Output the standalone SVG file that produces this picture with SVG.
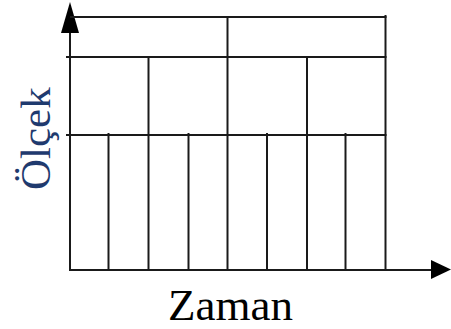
<svg xmlns="http://www.w3.org/2000/svg" width="451" height="329" viewBox="0 0 451 329">
<rect width="451" height="329" fill="#fff"/>
<g id="connectors" stroke="#1a1a1a" stroke-width="2" fill="none">
<line x1="70" y1="30" x2="70" y2="271"/>
<line x1="69" y1="270" x2="432" y2="270"/>
<polygon points="70,2 61,33 79,33" fill="#000" stroke="none"/>
<polygon points="451,269.5 431,260 431,279" fill="#000" stroke="none"/>
</g>
<g id="grid" stroke="#1a1a1a" stroke-width="2" fill="none">
<line x1="70" y1="17" x2="386.5" y2="17"/>
<line x1="66" y1="57" x2="386.5" y2="57"/>
<line x1="66" y1="135" x2="386.5" y2="135"/>
<line x1="385.5" y1="15" x2="385.5" y2="271"/>
<line x1="227.5" y1="17" x2="227.5" y2="271"/>
<line x1="148.5" y1="57" x2="148.5" y2="271"/>
<line x1="307" y1="56" x2="307" y2="271"/>
<line x1="108.5" y1="133" x2="108.5" y2="271"/>
<line x1="188.5" y1="133" x2="188.5" y2="271"/>
<line x1="267" y1="133" x2="267" y2="271"/>
<line x1="345.5" y1="133" x2="345.5" y2="271"/>
</g>
<text transform="translate(50,190) rotate(-90)" font-family="Liberation Serif" font-size="43" fill="#1F3A6E">Ölçek</text>
<text x="168" y="320" font-family="Liberation Serif" font-size="45" fill="#000">Zaman</text>
</svg>
